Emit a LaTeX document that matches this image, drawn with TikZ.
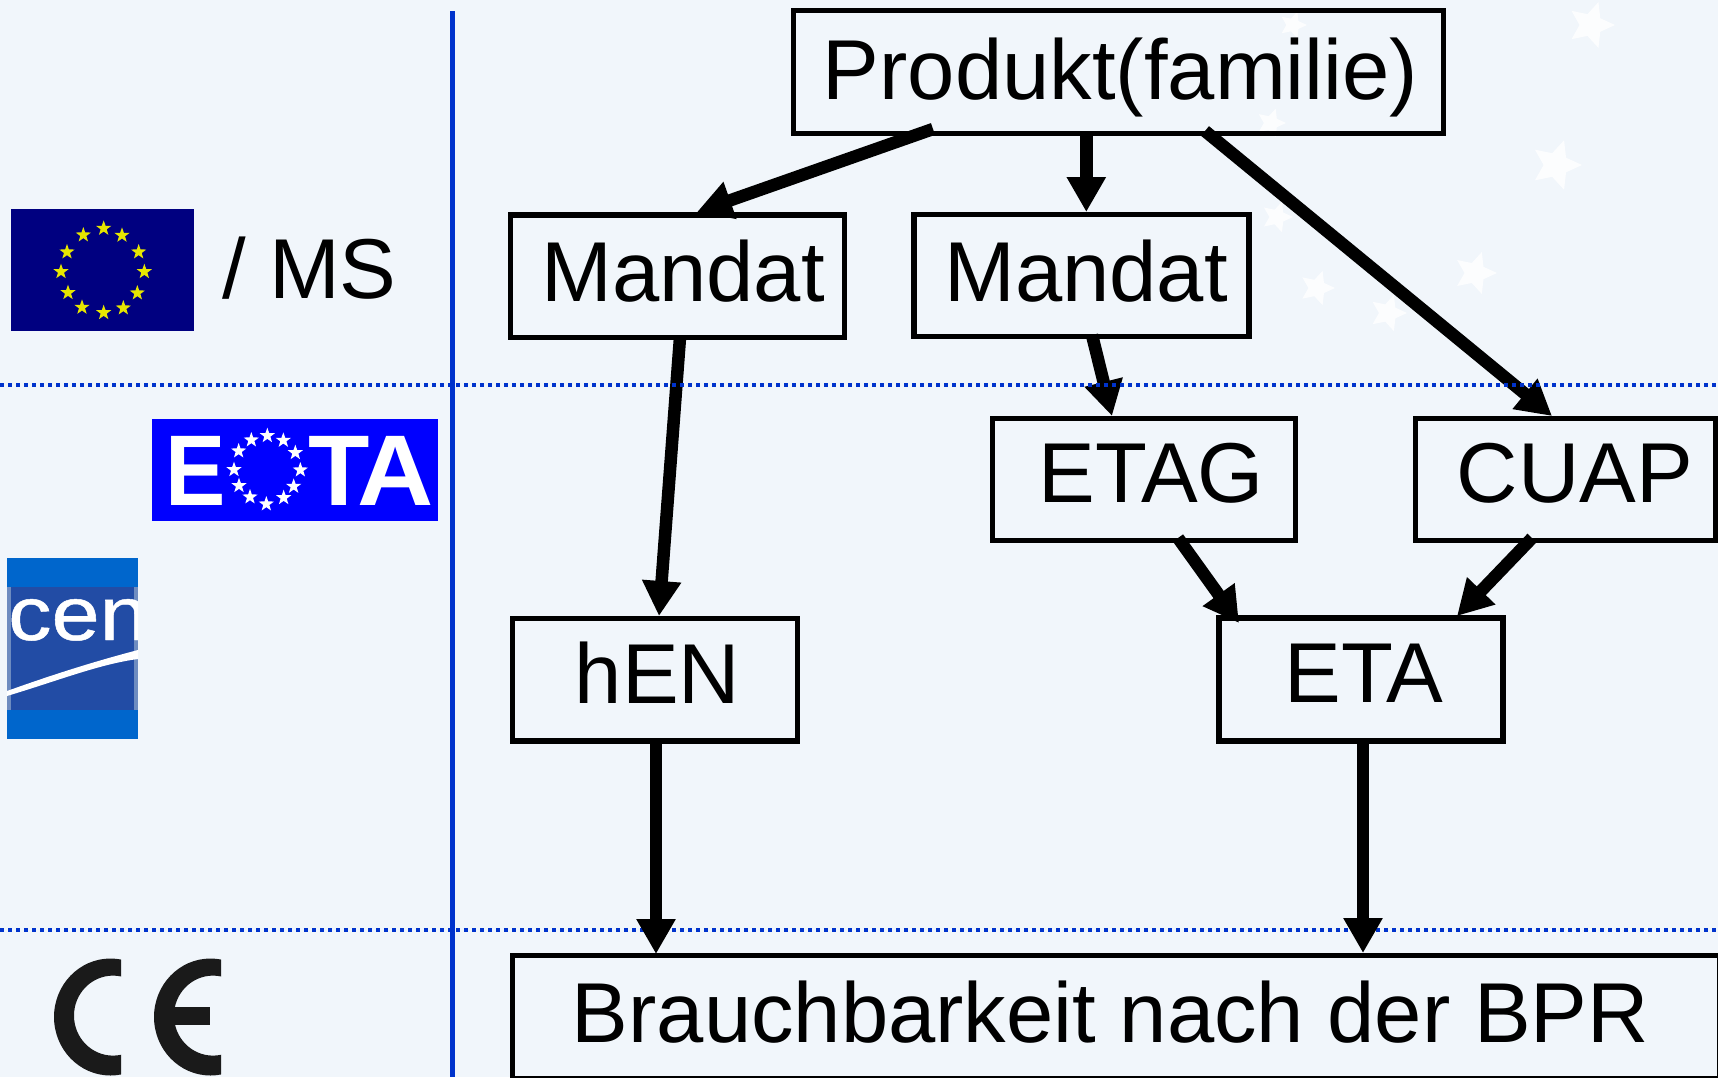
\documentclass[tikz,border=0pt]{standalone}
\usepackage{fontspec}
\setmainfont{Liberation Sans}
\newfontfamily\cenfont[FakeBold=0.6]{Liberation Sans}
\usetikzlibrary{arrows.meta,shapes.geometric}
\definecolor{bgc}{RGB}{241,246,251}
\definecolor{rule}{RGB}{0,51,204}
\definecolor{flagblue}{RGB}{0,0,128}
\definecolor{flagstar}{RGB}{230,230,0}
\definecolor{eotablue}{RGB}{0,0,255}
\definecolor{cenband}{RGB}{0,102,204}
\definecolor{cenmid}{RGB}{34,76,165}
\definecolor{censide}{RGB}{110,140,192}
\definecolor{cemark}{RGB}{26,26,26}
\tikzset{
  x=1pt,y=-1pt,
  boxn/.style={draw=black,line width=5.4pt,rectangle,inner sep=0pt,outer sep=0pt},
  lab/.style={anchor=base,inner sep=0pt,outer sep=0pt,text=black,font=\fontsize{85}{100}\selectfont},
  conn/.style={draw=black,line width=12.5pt,-{Triangle[length=35pt,width=37pt]}},
  dots/.style={draw=rule,line width=4pt,dash pattern=on 4pt off 4pt},
  smallstar/.style={star,star points=5,star point ratio=2.5,minimum size=16pt,inner sep=0pt,fill=#1},
  bgstar/.style={star,star points=5,star point ratio=2.1,inner sep=0pt,fill=white,fill opacity=0.85},
  eotaletter/.style={anchor=base west,inner sep=0pt,outer sep=0pt,text=white,font=\fontsize{100.5}{110}\selectfont\bfseries},
}
\begin{document}
\begin{tikzpicture}
\useasboundingbox (0,0) rectangle (1718,1077);
\fill[bgc] (0,0) rectangle (1718,1077);
% pale background stars
\node[bgstar,minimum size=48pt,rotate=-18] (s1) at (1591,25) {};
\node[bgstar,minimum size=52pt,rotate=-18] (s2) at (1556,165) {};
\node[bgstar,minimum size=44pt,rotate=-18] (s3) at (1475,273) {};
\node[bgstar,minimum size=36pt,rotate=-18] (s4) at (1317,288) {};
\node[bgstar,minimum size=38pt,rotate=-18] (s5) at (1388,313) {};
\node[bgstar,minimum size=32pt,rotate=-18] (s6) at (1277,217) {};
\node[bgstar,minimum size=30pt,rotate=-18] (s7) at (1271,123) {};
\node[bgstar,minimum size=28pt,rotate=-18] (s8) at (1293,25) {};
% rules
\draw[rule,line width=5pt] (452.5,11) -- (452.5,1077);
\draw[dots] (0,930) -- (1718,930);
% EU flag
\fill[flagblue] (11,209) rectangle (194,331);
\foreach \a/\b in {311/115,366/136,416/186,433/245,412/309,370/354,311/368,246/352,204/308,183/245,201/186,250/135}
  \node[smallstar=flagstar] at ({\a/3},{190+\b/3}) {};
\node[lab,anchor=base west] (ms) at (222,298.5) {/ MS};
% EOTA
\fill[eotablue] (152,419) rectangle (438,521);
\foreach \a/\b in {802/737,850/751,886/788,901/840,881/889,851/923,799/942,750/921,717/887,702/839,716/783,754/750}
  \node[smallstar=white] at ({\a/3},{190+\b/3}) {};
\node[eotaletter] (eE) at (165.5,505.5) {\scalebox{0.9}[1]{E}};
\node[eotaletter] (eT) at (308,505.5) {T};
\node[eotaletter] (eA) at (357,505.5) {\scalebox{1.05}[1]{A}};
% CEN
\fill[cenband] (7,558) rectangle (138,738.5);
\fill[cenmid] (7,587) rectangle (138,709.5);
\fill[censide] (7,587) rectangle (11,709.5);
\fill[censide] (134,587) rectangle (138,709.5);
\begin{scope}
\clip (7,587) rectangle (138,709.5);
\node[anchor=base west,inner sep=0pt,text=white,font=\fontsize{76}{90}\cenfont] (cen) at (8,640) {\scalebox{1.14}[1]{cen}};
\fill[white] (7,691) .. controls (60,672) and (100,660) .. (138,650) -- (138,659) .. controls (100,664) and (60,680) .. (7,696) -- cycle;
\end{scope}
% CE mark
\begin{scope}
\clip (50,955) rectangle (121,1077);
\fill[cemark,even odd rule] (110.5,1017) ellipse [x radius=56.5pt,y radius=58.5pt] (113,1015.6) ellipse [x radius=39pt,y radius=40pt];
\end{scope}
\begin{scope}
\clip (150,955) rectangle (221,1077);
\fill[cemark,even odd rule] (210.5,1017) ellipse [x radius=56.5pt,y radius=58.5pt] (213,1015.6) ellipse [x radius=39pt,y radius=40pt];
\end{scope}
\fill[cemark] (172,1007) rectangle (210,1025);
% boxes
\node[boxn,minimum width=650pt,minimum height=123pt] (p) at (1118.5,72) {};
\node[boxn,minimum width=334pt,minimum height=122.5pt] (m1) at (677.5,276.25) {};
\node[boxn,minimum width=335pt,minimum height=122pt] (m2) at (1081.5,275.5) {};
\node[boxn,minimum width=303pt,minimum height=122pt] (etag) at (1144,479.5) {};
\node[boxn,minimum width=300.5pt,minimum height=122pt] (cuap) at (1565.75,479.5) {};
\node[boxn,minimum width=285pt,minimum height=122.5pt] (hen) at (655,679.75) {};
\node[boxn,minimum width=284pt,minimum height=123pt] (eta) at (1361,679.5) {};
\node[boxn,minimum width=1207pt,minimum height=123pt] (bpr) at (1116,1017) {};
% labels
\node[lab] (tp) at (1120.5,99) {Produkt(familie)};
\node[lab] (tm1) at (683,301) {Mandat};
\node[lab] (tm2) at (1086,301) {Mandat};
\node[lab] (tetag) at (1151.5,502) {ETAG};
\node[lab] (tcuap) at (1575,502) {CUAP};
\node[lab] (then) at (657.5,703) {hEN};
\node[lab] (teta) at (1364,702) {ETA};
\node[lab] (tbpr) at (1110.5,1042) {Brauchbarkeit nach der BPR};
% connectors
\draw[conn] ([xshift=-185.5pt,yshift=4.5pt]p.south) -- ([xshift=19.5pt,yshift=3pt]m1.north);
\draw[conn] ([xshift=-32.2pt]p.south) -- ([xshift=4.8pt,yshift=2.5pt]m2.north);
\draw[conn] ([xshift=86.5pt,yshift=2.5pt]p.south) -- ([xshift=-13.75pt,yshift=2.5pt]cuap.north);
\draw[conn] ([xshift=2.5pt]m1.south) -- ([xshift=4pt,yshift=2.5pt]hen.north);
\draw[conn] ([xshift=10.5pt,yshift=1.5pt]m2.south) -- ([xshift=-32pt,yshift=2.5pt]etag.north);
\draw[conn] ([xshift=34pt,yshift=2.5pt]etag.south) -- ([xshift=-122pt,yshift=-5pt]eta.north);
\draw[conn] ([xshift=-33.75pt,yshift=2.5pt]cuap.south) -- ([xshift=96pt,yshift=2pt]eta.north);
\draw[conn] ([xshift=1pt]hen.south) -- ([xshift=-460pt,yshift=1.5pt]bpr.north);
\draw[conn] ([xshift=2pt]eta.south) -- ([xshift=247pt,yshift=2.5pt]bpr.north);
\draw[dots] (0,385.3) -- (1718,385.3);
\end{tikzpicture}
\end{document}
